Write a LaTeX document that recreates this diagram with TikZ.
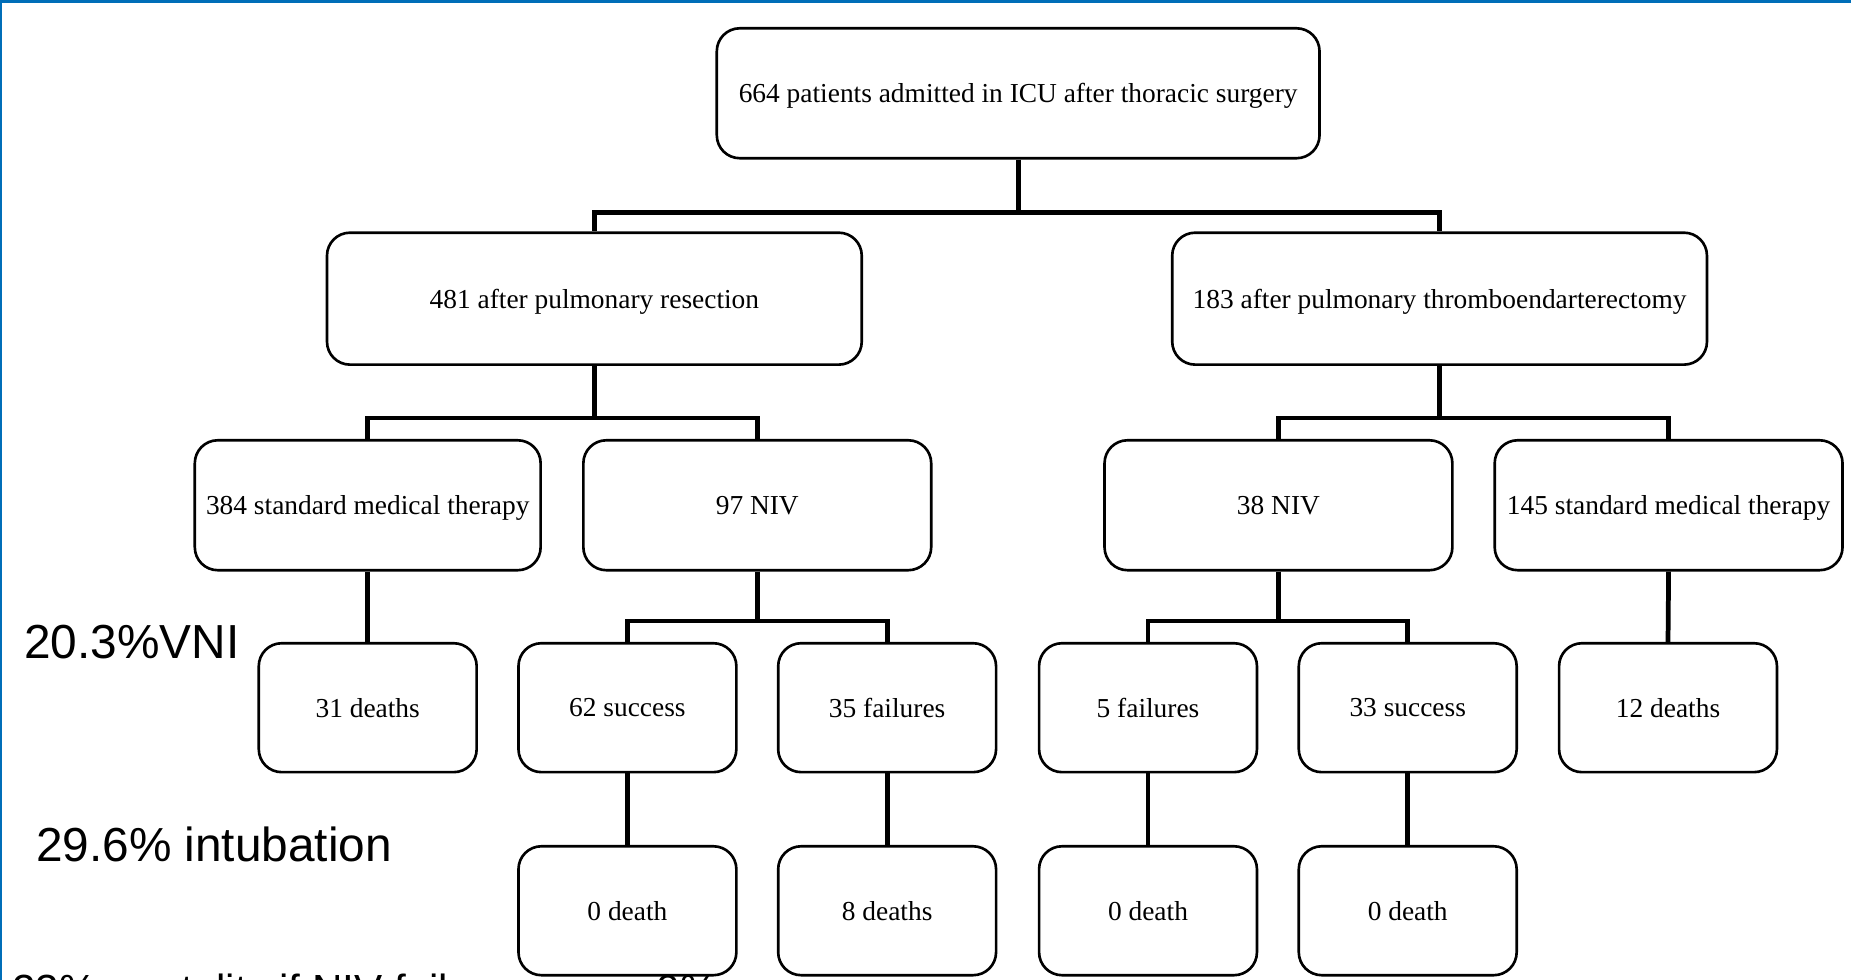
\documentclass[tikz,border=0pt]{standalone}
\usepackage{fontspec}
\setmainfont{Liberation Serif}
\newfontfamily\arialf{Liberation Sans}
\definecolor{frameblue}{HTML}{006EB8}
\begin{document}
\begin{tikzpicture}[x=0.011805cm,y=-0.011805cm,
  box/.style={draw=black, line width=0.75pt, rounded corners=2.3mm, fill=white, inner sep=0pt,
    text depth=0pt, font=\fontsize{7.8}{9}\selectfont},
  toprow/.style={box, minimum width=6.03cm, minimum height=1.30cm},
  midrow/.style={box, minimum width=5.35cm, minimum height=1.32cm},
  thirdrow/.style={box, minimum width=3.48cm, minimum height=1.30cm},
  lowrow/.style={box, minimum width=2.18cm, minimum height=1.29cm},
  link/.style={line width=1.35pt},
  big/.style={font=\arialf\fontsize{13.6}{16}\selectfont, inner sep=0pt, anchor=base west},
  cut/.style={font=\arialf\fontsize{12}{14}\selectfont, inner sep=0pt, anchor=base west}]

\useasboundingbox (0,0) rectangle (1568,830);
\clip (0,0) rectangle (1568,830);
\fill[white] (0,0) rectangle (1568,830);

% side labels
\node[big] (vni) at (20,558) {20.3\%VNI};
\node[big] (intub) at (30,730) {29.6\% intubation};
\node[cut] (mort) at (10,851) {23\% mortality if NIV failure versus 0\%};

% boxes
\node[toprow] (top) at (862.5,79) {664 patients admitted in ICU after thoracic surgery};

\node[midrow] (pr) at (503.5,253) {481 after pulmonary resection};
\node[midrow] (pt) at (1219.5,253) {183 after pulmonary thromboendarterectomy};

\node[thirdrow, minimum width=3.46cm] (smtA) at (311.5,428) {384 standard medical therapy};
\node[thirdrow] (nivA) at (641.5,428) {97 NIV};
\node[thirdrow] (nivB) at (1083,428) {38 NIV};
\node[thirdrow] (smtB) at (1413.5,428) {145 standard medical therapy};

\node[lowrow] (d31) at (311.5,599.5) {31 deaths};
\node[lowrow] (s62) at (531.5,599.5) {62 success};
\node[lowrow] (f35) at (751.5,599.5) {35 failures};
\node[lowrow] (f5) at (972.5,599.5) {5 failures};
\node[lowrow] (s33) at (1192.5,599.5) {33 success};
\node[lowrow] (d12) at (1413,599.5) {12 deaths};

\node[lowrow] (e1) at (531.5,771.5) {0 death};
\node[lowrow] (e2) at (751.5,771.5) {8 deaths};
\node[lowrow] (e3) at (972.5,771.5) {0 death};
\node[lowrow] (e4) at (1192.5,771.5) {0 death};

% connectors
\draw[link] (top.south) -- ++(0,45) -| (pr.north);
\draw[link] (top.south) -- ++(0,45) -| (pt.north);

\draw[link] (pr.south) -- ++(0,44) -| (smtA.north);
\draw[link] (pr.south) -- ++(0,44) -| (nivA.north);
\draw[link] (pt.south) -- ++(0,44) -| (nivB.north);
\draw[link] (pt.south) -- ++(0,44) -| (smtB.north);

\draw[link] (smtA.south) -- (d31.north);
\draw[link] (nivA.south) -- ++(0,42) -| (s62.north);
\draw[link] (nivA.south) -- ++(0,42) -| (f35.north);
\draw[link] (nivB.south) -- ++(0,42) -| (f5.north);
\draw[link] (nivB.south) -- ++(0,42) -| (s33.north);
\draw[link] (smtB.south) -- (d12.north);

\draw[link] (s62.south) -- (e1.north);
\draw[link] (f35.south) -- (e2.north);
\draw[link] (f5.south) -- (e3.north);
\draw[link] (s33.south) -- (e4.north);

% blue frame edges
\fill[frameblue] (0,0) rectangle (1568,2.6);
\fill[frameblue] (0,0) rectangle (1.9,830);
\end{tikzpicture}
\end{document}
